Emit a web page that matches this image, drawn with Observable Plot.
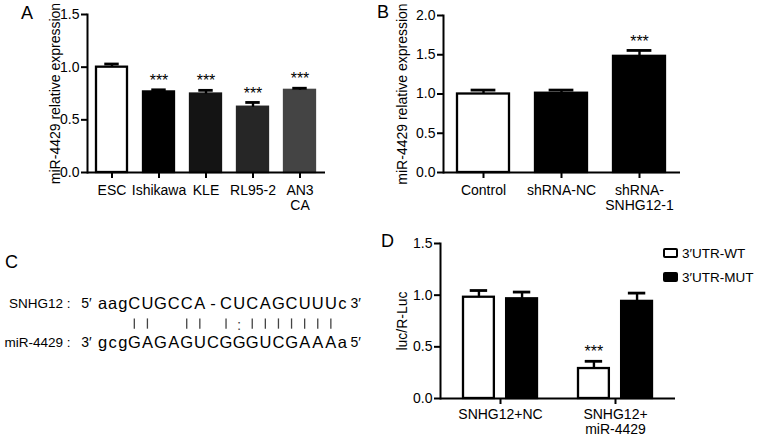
<!DOCTYPE html>
<html>
<head>
<meta charset="utf-8">
<script src="https://cdn.jsdelivr.net/npm/d3@7"></script>
<script src="https://cdn.jsdelivr.net/npm/@observablehq/plot@0.6"></script>
<style>
  body { margin: 0; background: #fff; }
  #fig { position: relative; width: 765px; height: 440px; overflow: hidden; background: #fff;
         font-family: "Liberation Sans", Arial, Helvetica, sans-serif; color: #000; }
  #fig svg { position: absolute; overflow: visible; }
  .letter { position: absolute; font-size: 18px; line-height: 1; }
  .legend { position: absolute; font-size: 13.5px; }
  .legend .item { display: flex; align-items: center; height: 24px; }
  .legend .sw { width: 11px; height: 6px; border: 2px solid #000; border-radius: 2px; margin-right: 4px; }
</style>
</head>
<body>
<div id="fig"></div>
<script>
// ---------- Panel A data ----------
const cellLines = ["ESC", "Ishikawa", "KLE", "RL95-2", "AN3\nCA"];
const cellExpression = [1.00, 0.765, 0.745, 0.62, 0.78];
const cellSEM = [0.03, 0.02, 0.035, 0.045, 0.02];
const cellSignif = ["", "***", "***", "***", "***"];
const cellFill = ["#ffffff", "#000000", "#141414", "#262626", "#444444"];
const ticksA = [0, 0.5, 1.0, 1.5];

// ---------- Panel B data ----------
const groupsB = ["Control", "shRNA-NC", "shRNA-\nSNHG12-1"];
const exprB = [1.00, 1.01, 1.48];
const semB = [0.05, 0.04, 0.075];
const signifB = ["", "", "***"];
const fillB = ["#ffffff", "#000000", "#000000"];
const ticksB = [0, 0.5, 1.0, 1.5, 2.0];

// ---------- Panel C data ----------
const seqLabels = ["SNHG12 :", "miR-4429 :"];
const seqEnd5 = ["5′", "3′"];
const seqEnd3 = ["3′", "5′"];
const seqTop =    ["a","a","g","C","U","G","C","C","A","-","C","U","C","A","G","C","U","U","U","c"];
const seqBottom = ["g","c","g","G","A","G","A","G","U","C","G","G","G","U","C","G","A","A","A","a"];
const pairing =   [" "," "," ","|","|"," "," ","|","|"," ","|",":","|","|","|","|","|","|","|"," "];

// ---------- Panel D data ----------
const groupsD = ["SNHG12+NC", "SNHG12+\nmiR-4429"];
const seriesD = ["3′UTR-WT", "3′UTR-MUT"];
const wtLuc = [0.98, 0.29];
const wtSEM = [0.065, 0.07];
const wtSignif = ["", "***"];
const mutLuc = [0.965, 0.94];
const mutSEM = [0.065, 0.08];
const mutSignif = ["", ""];
const seriesFill = ["#ffffff", "#000000"];
const ticksD = [0, 0.5, 1.0, 1.5];

const FONT = "Liberation Sans, Arial, Helvetica, sans-serif";
const fig = document.getElementById("fig");
const fmt = d3.format(".1f");

function place(svg, left, top) {
  svg.style.left = left + "px";
  svg.style.top = top + "px";
  fig.appendChild(svg);
}

function barPanel(o) {
  const rows = o.names.map((n, i) => ({
    name: n, value: o.values[i], err: o.errs[i], top: o.values[i] + o.errs[i],
    sig: o.sigs[i], fill: o.fills[i], stroke: o.fills[i] === "#ffffff" ? "#000000" : o.fills[i]
  }));
  const innerW = o.width - o.margin.left - o.margin.right;
  const step = innerW / (o.names.length - o.padInner + 2 * o.padOuter);
  const bw = step * (1 - o.padInner);
  return Plot.plot({
    width: o.width, height: o.height,
    marginLeft: o.margin.left, marginRight: o.margin.right,
    marginTop: o.margin.top, marginBottom: o.margin.bottom,
    style: {fontFamily: FONT, fontSize: "14px", color: "#000", background: "transparent", overflow: "visible"},
    x: {domain: o.names, paddingInner: o.padInner, paddingOuter: o.padOuter, label: null},
    y: {domain: [0, o.yMax], label: null},
    color: {type: "identity"},
    marks: [
      Plot.barY(rows, {x: "name", y: "value", fill: "fill", stroke: "stroke", strokeWidth: 2.3}),
      Plot.ruleX(rows, {x: "name", y1: "value", y2: "top", strokeWidth: 2.4}),
      Plot.tickY(rows, {x: "name", y: "top", inset: bw * 0.26, strokeWidth: 2.8}),
      Plot.text(rows.filter(d => d.sig), {x: "name", y: "top", text: "sig", dy: -9, fontSize: 16}),
      Plot.frame({anchor: "left", strokeWidth: 2}),
      Plot.ruleY([0], {strokeWidth: 2}),
      Plot.axisY({ticks: o.ticks, tickFormat: fmt, tickSize: 6, tickPadding: 2, strokeWidth: 2, label: null}),
      Plot.axisX({tickSize: 6, tickPadding: 6, strokeWidth: 2, label: null, lineHeight: 1.05}),
      Plot.text([o.ylabel], {frameAnchor: "left", textAnchor: "middle", rotate: -90, dx: o.ylabelDx, fontSize: 14})
    ]
  });
}

// Panel A
place(barPanel({
  names: cellLines, values: cellExpression, errs: cellSEM, sigs: cellSignif, fills: cellFill,
  ticks: ticksA, yMax: 1.5, width: 380, height: 225,
  margin: {left: 87, right: 55, top: 14, bottom: 53}, padInner: 0.33, padOuter: 0.17,
  ylabel: "miR-4429 relative expression", ylabelDx: -32
}), 0, 0);

// Panel B
place(barPanel({
  names: groupsB, values: exprB, errs: semB, sigs: signifB, fills: fillB,
  ticks: ticksB, yMax: 2.0, width: 385, height: 225,
  margin: {left: 63, right: 85, top: 15, bottom: 53}, padInner: 0.33, padOuter: 0.18,
  ylabel: "miR-4429 relative expression", ylabelDx: -41
}), 380, 0);

// Panel C
(function () {
  const isLower = c => c !== c.toUpperCase();
  const widths = seqTop.map((c, i) => (isLower(c) && isLower(seqBottom[i])) ? 0.77 : 1);
  let acc = 0;
  const pos = widths.map(w => { const c = acc + w / 2; acc += w; return c; });
  const total = acc;
  const chars = [];
  seqTop.forEach((c, i) => chars.push({x: pos[i], row: 0, ch: c}));
  seqBottom.forEach((c, i) => chars.push({x: pos[i], row: 2, ch: c}));
  const pairs = pairing.map((p, i) => ({x: pos[i], p})).filter(d => d.p !== " ");
  const meta = seqLabels.map((l, i) => ({row: i * 2, label: l, e5: seqEnd5[i], e3: seqEnd3[i]}));
  const svg = Plot.plot({
    width: 380, height: 215,
    marginLeft: 97, marginRight: 33, marginTop: 78, marginBottom: 97.5,
    style: {fontFamily: FONT, fontSize: "14px", color: "#000", background: "transparent", overflow: "visible"},
    x: {domain: [0, total], axis: null},
    y: {domain: [0, 2], reverse: true, axis: null},
    marks: [
      Plot.text(chars, {x: "x", y: "row", text: "ch", fontSize: 16.5}),
      Plot.ruleX(pairs.filter(d => d.p === "|"), {x: "x", y1: 0.78, y2: 1.3, stroke: "#444", strokeWidth: 1.3}),
      Plot.text(pairs.filter(d => d.p === ":"), {x: "x", y: 1.08, text: "p", fontSize: 15, fill: "#444"}),
      Plot.text(meta, {x: 0, y: "row", text: "label", textAnchor: "end", dx: -27, fontSize: 13.5}),
      Plot.text(meta, {x: 0, y: "row", text: "e5", dx: -11, fontSize: 14}),
      Plot.text(meta, {x: total, y: "row", text: "e3", textAnchor: "start", dx: 3, fontSize: 14})
    ]
  });
  place(svg, 0, 225);
})();

// Panel D
(function () {
  const width = 385, height = 215;
  const margin = {left: 60, right: 90, top: 18, bottom: 42};
  const padInner = 0.36, padOuter = 0.2;
  const innerW = width - margin.left - margin.right;
  const step = innerW / (groupsD.length - padInner + 2 * padOuter);
  const bw = step * (1 - padInner);
  const barW = bw * 0.415;
  const off = bw / 2 - barW / 2;
  const capIn = barW * 0.22;
  const mk = (vals, errs, sigs, s) => groupsD.map((g, i) => ({
    group: g, series: seriesD[s], value: vals[i], err: errs[i], top: vals[i] + errs[i], sig: sigs[i], fill: seriesFill[s]
  }));
  const wt = mk(wtLuc, wtSEM, wtSignif, 0);
  const mut = mk(mutLuc, mutSEM, mutSignif, 1);
  const svg = Plot.plot({
    width, height,
    marginLeft: margin.left, marginRight: margin.right, marginTop: margin.top, marginBottom: margin.bottom,
    style: {fontFamily: FONT, fontSize: "14px", color: "#000", background: "transparent", overflow: "visible"},
    x: {domain: groupsD, paddingInner: padInner, paddingOuter: padOuter, label: null},
    y: {domain: [0, 1.5], label: null},
    color: {type: "identity"},
    marks: [
      Plot.barY(wt, {x: "group", y: "value", fill: "fill", stroke: "#000", strokeWidth: 2.3, insetRight: bw - barW}),
      Plot.barY(mut, {x: "group", y: "value", fill: "fill", stroke: "#000", strokeWidth: 2.3, insetLeft: bw - barW}),
      Plot.ruleX(wt, {x: "group", y1: "value", y2: "top", dx: -off, strokeWidth: 2.4}),
      Plot.ruleX(mut, {x: "group", y1: "value", y2: "top", dx: off, strokeWidth: 2.4}),
      Plot.tickY(wt, {x: "group", y: "top", insetLeft: capIn, insetRight: bw - barW + capIn, strokeWidth: 2.8}),
      Plot.tickY(mut, {x: "group", y: "top", insetLeft: bw - barW + capIn, insetRight: capIn, strokeWidth: 2.8}),
      Plot.text(wt.filter(d => d.sig), {x: "group", y: "top", text: "sig", dx: -off, dy: -9, fontSize: 16}),
      Plot.text(mut.filter(d => d.sig), {x: "group", y: "top", text: "sig", dx: off, dy: -9, fontSize: 16}),
      Plot.frame({anchor: "left", strokeWidth: 2}),
      Plot.ruleY([0], {strokeWidth: 2}),
      Plot.axisY({ticks: ticksD, tickFormat: fmt, tickSize: 6, tickPadding: 2, strokeWidth: 2, label: null}),
      Plot.axisX({tickSize: 6, tickPadding: 4, strokeWidth: 2, label: null, lineHeight: 1.08}),
      Plot.text(["luc/R-Luc"], {frameAnchor: "left", textAnchor: "middle", rotate: -90, dx: -38, fontSize: 14})
    ]
  });
  place(svg, 380, 225);

  const legend = document.createElement("div");
  legend.className = "legend";
  legend.style.left = "663px";
  legend.style.top = "241px";
  seriesD.forEach((s, i) => {
    const item = document.createElement("div");
    item.className = "item";
    const sw = document.createElement("span");
    sw.className = "sw";
    sw.style.background = seriesFill[i];
    item.appendChild(sw);
    item.appendChild(document.createTextNode(s));
    legend.appendChild(item);
  });
  fig.appendChild(legend);
})();

// Panel letters
[["A", 21, 4], ["B", 377, 3], ["C", 5, 253], ["D", 381, 232]].forEach(([t, x, y]) => {
  const d = document.createElement("div");
  d.className = "letter";
  d.textContent = t;
  d.style.left = x + "px";
  d.style.top = y + "px";
  fig.appendChild(d);
});
</script>
</body>
</html>
